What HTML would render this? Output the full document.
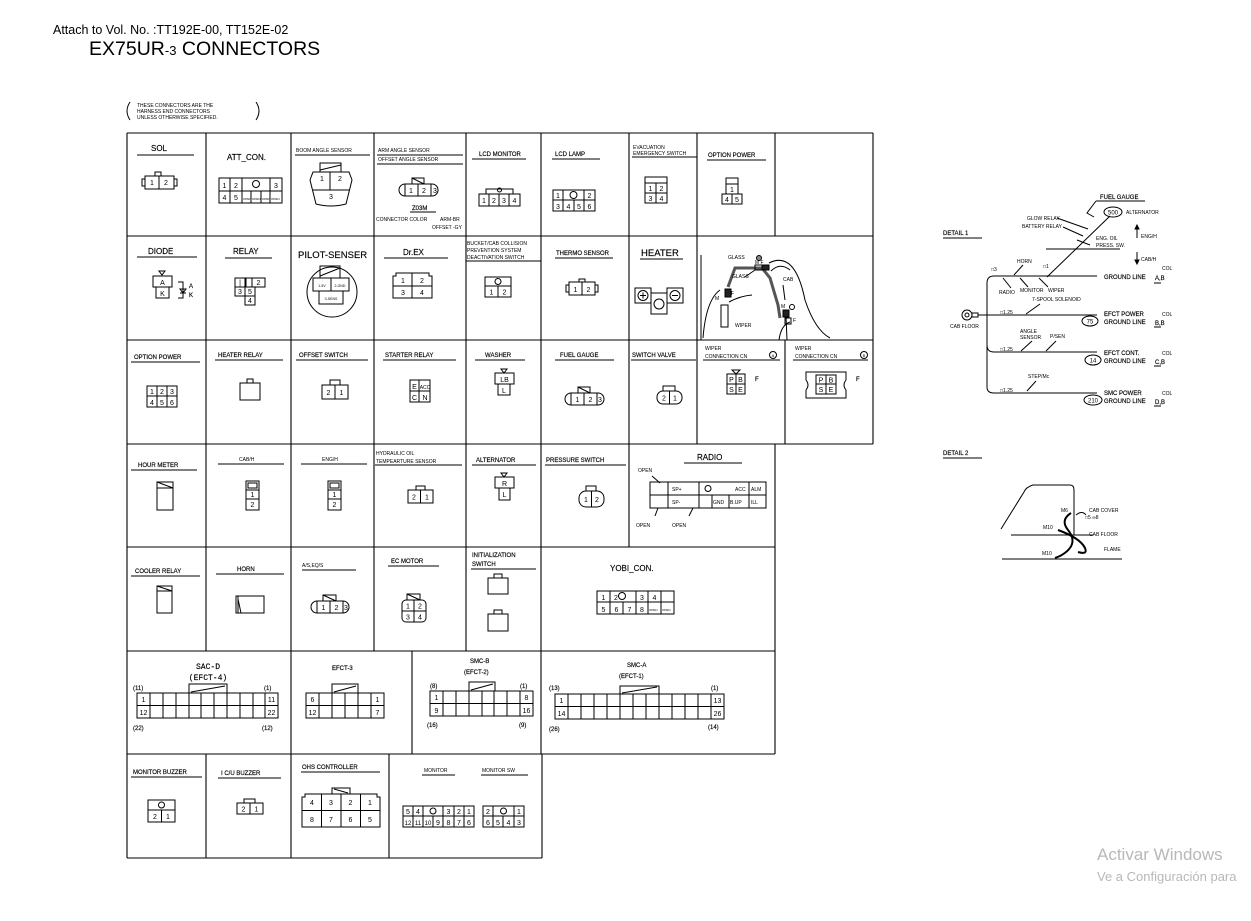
<!DOCTYPE html>
<html><head><meta charset="utf-8"><style>
html,body{margin:0;padding:0;background:#fff;width:1251px;height:921px;overflow:hidden}
svg{display:block}
text{font-family:"Liberation Sans",Arial,sans-serif;fill:#000}
.t{font-size:8px}.s{font-size:6px}.xs{font-size:5px}.n{font-size:7px;text-anchor:middle}
.b{font-size:9.5px}
line,rect,path,polyline,circle,ellipse,polygon{stroke:#000;stroke-width:1;fill:none}
.g line{stroke-width:1.1}
.t,.s,.b{stroke:#000;stroke-width:0.15px}
</style></head><body>
<svg width="1251" height="921" viewBox="0 0 1251 921">
<text x="53" y="34" style="font-size:12.5px">Attach to Vol. No. :TT192E-00, TT152E-02</text>
<text x="89" y="55" style="font-size:19.5px">EX75UR<tspan style="font-size:13px">-3</tspan> CONNECTORS</text>
<path d="M130,102 Q124,111 130,120"/><path d="M256,102 Q262,111 256,120"/>
<text x="137" y="107" class="xs">THESE CONNECTORS ARE THE</text>
<text x="137" y="113" class="xs">HARNESS END CONNECTORS</text>
<text x="137" y="119" class="xs">UNLESS OTHERWISE SPECIFIED.</text>

<g class="g">
<line x1="127" y1="133" x2="873" y2="133"/><line x1="127" y1="236" x2="873" y2="236"/>
<line x1="127" y1="340" x2="873" y2="340"/><line x1="127" y1="444" x2="873" y2="444"/>
<line x1="127" y1="547" x2="775" y2="547"/><line x1="127" y1="651" x2="775" y2="651"/>
<line x1="127" y1="754" x2="775" y2="754"/><line x1="127" y1="858" x2="542" y2="858"/>
<line x1="127" y1="133" x2="127" y2="858"/><line x1="873" y1="133" x2="873" y2="444"/>
<line x1="206" y1="133" x2="206" y2="651"/><line x1="291" y1="133" x2="291" y2="858"/>
<line x1="374" y1="133" x2="374" y2="651"/><line x1="466" y1="133" x2="466" y2="651"/>
<line x1="541" y1="133" x2="541" y2="754"/><line x1="629" y1="133" x2="629" y2="547"/>
<line x1="697" y1="133" x2="697" y2="444"/><line x1="775" y1="133" x2="775" y2="236"/>
<line x1="785" y1="340" x2="785" y2="444"/><line x1="775" y1="444" x2="775" y2="754"/>
<line x1="412" y1="651" x2="412" y2="754"/><line x1="206" y1="754" x2="206" y2="858"/>
<line x1="389" y1="754" x2="389" y2="858"/><line x1="542" y1="754" x2="542" y2="858"/>
</g>

<text x="151" y="151" class="t">SOL</text><line x1="137" y1="155" x2="194" y2="155"/>
<rect x="145" y="176" width="29" height="13"/><line x1="159" y1="176" x2="159" y2="189"/><rect x="155" y="172" width="6" height="4"/>
<rect x="142" y="179" width="3" height="7"/><rect x="174" y="179" width="3" height="7"/>
<text x="152" y="185" class="n">1</text><text x="166" y="185" class="n">2</text>

<text x="227" y="160" class="t">ATT_CON.</text>
<rect x="219" y="178" width="63" height="25"/><line x1="219" y1="191" x2="282" y2="191"/>
<line x1="230" y1="178" x2="230" y2="203"/><line x1="242" y1="178" x2="242" y2="203"/><line x1="270" y1="178" x2="270" y2="203"/>
<line x1="251" y1="191" x2="251" y2="203"/><line x1="261" y1="191" x2="261" y2="203"/>
<circle cx="256" cy="184" r="3.5"/>
<text x="224.5" y="188" class="n">1</text><text x="236" y="188" class="n">2</text><text x="276" y="188" class="n">3</text>
<text x="224.5" y="200" class="n">4</text><text x="236" y="200" class="n">5</text>
<text x="243" y="200" style="font-size:3px">OPEN</text><text x="252" y="200" style="font-size:3px">OPEN</text><text x="262" y="200" style="font-size:3px">OPEN</text><text x="271" y="200" style="font-size:3px">OPEN</text>

<text x="296" y="152" class="xs">BOOM ANGLE SENSOR</text><line x1="295" y1="155" x2="370" y2="155"/>
<rect x="320" y="163" width="21" height="9"/><line x1="320" y1="170" x2="341" y2="165"/>
<path d="M313,172 L349,172 L352,180 L346,204 Q331,208 316,204 L310,180 Z"/>
<line x1="330" y1="172" x2="330" y2="190"/><line x1="313" y1="190" x2="349" y2="190"/>
<text x="322" y="181" class="n">1</text><text x="340" y="181" class="n">2</text><text x="331" y="199" class="n">3</text>

<text x="378" y="152" class="xs">ARM ANGLE SENSOR</text><line x1="377" y1="155" x2="463" y2="155"/>
<text x="378" y="161" class="xs">OFFSET ANGLE SENSOR</text><line x1="377" y1="164" x2="463" y2="164"/>
<rect x="412" y="178" width="12" height="6"/><line x1="412" y1="178" x2="424" y2="184"/>
<rect x="399" y="184" width="39" height="12" rx="6"/><line x1="405" y1="184" x2="405" y2="196"/><line x1="418" y1="184" x2="418" y2="196"/><line x1="431" y1="184" x2="431" y2="196"/>
<text x="411" y="193" class="n">1</text><text x="424" y="193" class="n">2</text><text x="435" y="193" class="n">3</text>
<text x="412" y="210" class="s">Z03M</text><line x1="410" y1="212" x2="436" y2="212"/>
<text x="376" y="221" class="xs">CONNECTOR COLOR</text><text x="440" y="221" class="xs">ARM-BR</text><text x="432" y="229" class="xs">OFFSET -GY</text>

<text x="479" y="156" class="s">LCD MONITOR</text><line x1="472" y1="159" x2="526" y2="159"/>
<rect x="486" y="189" width="27" height="5"/><circle cx="499.5" cy="190" r="2"/>
<rect x="479" y="194" width="41" height="12"/><line x1="489" y1="194" x2="489" y2="206"/><line x1="499" y1="194" x2="499" y2="206"/><line x1="509" y1="194" x2="509" y2="206"/>
<text x="484" y="203" class="n">1</text><text x="494" y="203" class="n">2</text><text x="504" y="203" class="n">3</text><text x="514.5" y="203" class="n">4</text>

<text x="555" y="156" class="s">LCD LAMP</text><line x1="552" y1="159" x2="600" y2="159"/>
<rect x="553" y="190" width="42" height="21"/><line x1="553" y1="200" x2="595" y2="200"/>
<line x1="563" y1="190" x2="563" y2="211"/><line x1="584" y1="190" x2="584" y2="211"/><line x1="574" y1="200" x2="574" y2="211"/>
<circle cx="573.5" cy="195" r="3.5"/>
<text x="558" y="198" class="n">1</text><text x="589.5" y="198" class="n">2</text>
<text x="558" y="209" class="n">3</text><text x="568.5" y="209" class="n">4</text><text x="579" y="209" class="n">5</text><text x="589.5" y="209" class="n">6</text>

<text x="633" y="149" class="xs">EVACUATION</text><text x="633" y="155" class="xs">EMERGENCY SWITCH</text><line x1="632" y1="157" x2="697" y2="157"/>
<rect x="645" y="177" width="22" height="26"/><line x1="645" y1="183" x2="667" y2="183"/><line x1="645" y1="193" x2="667" y2="193"/><line x1="656" y1="183" x2="656" y2="203"/>
<text x="650.5" y="191" class="n">1</text><text x="661.5" y="191" class="n">2</text><text x="650.5" y="201" class="n">3</text><text x="661.5" y="201" class="n">4</text>

<text x="708" y="157" class="s">OPTION POWER</text><line x1="707" y1="160" x2="766" y2="160"/>
<rect x="726" y="178" width="12" height="16"/><line x1="726" y1="184" x2="738" y2="184"/>
<rect x="722" y="194" width="20" height="10"/><line x1="732" y1="194" x2="732" y2="204"/>
<text x="732" y="192" class="n">1</text><text x="727" y="202" class="n">4</text><text x="737" y="202" class="n">5</text>

<text x="148" y="254" class="t">DIODE</text><line x1="137" y1="257" x2="197" y2="257"/>
<polygon points="159,271 165,271 162,275"/><line x1="159" y1="271" x2="165" y2="271"/>
<rect x="153" y="276" width="19" height="11"/><rect x="156" y="287" width="13" height="11"/>
<text x="162.5" y="285" class="n">A</text><text x="162.5" y="296" class="n">K</text>
<polyline points="178,282 183,282 183,298 178,298"/><polygon points="180,289 186,289 183,293"/><line x1="180" y1="293" x2="186" y2="293"/>
<text x="189" y="288" class="s">A</text><text x="189" y="297" class="s">K</text>

<text x="233" y="254" class="t">RELAY</text><line x1="225" y1="258" x2="272" y2="258"/>
<rect x="235" y="278" width="10" height="9"/><rect x="246" y="278" width="6" height="9"/><rect x="252" y="278" width="13" height="9"/>
<rect x="235" y="287" width="10" height="9"/><rect x="245" y="287" width="10" height="9"/><rect x="245" y="296" width="10" height="9"/>
<text x="240" y="285" class="n">|</text><text x="258.5" y="285" class="n">2</text><text x="240" y="294" class="n">3</text><text x="250" y="294" class="n">5</text><text x="250" y="303" class="n">4</text>

<text x="298" y="258" class="b">PILOT-SENSER</text>
<circle cx="332" cy="292" r="25"/><rect x="320" y="266" width="20" height="12"/><line x1="320" y1="276" x2="340" y2="268"/>
<rect x="313" y="278" width="18" height="13"/><rect x="331" y="278" width="18" height="13"/><rect x="319" y="291" width="24" height="13"/>
<text x="322" y="287" style="font-size:3.5px;text-anchor:middle">1-5V</text><text x="340" y="287" style="font-size:3.5px;text-anchor:middle">2-GND</text><text x="331" y="300" style="font-size:3.5px;text-anchor:middle">3-SENS</text>

<text x="403" y="255" class="t">Dr.EX</text><line x1="384" y1="258" x2="448" y2="258"/>
<path d="M396,273 L429,273 L429,276 L432,276 L432,298 L393,298 L393,276 L396,276 Z"/>
<line x1="412" y1="273" x2="412" y2="298"/><line x1="393" y1="286" x2="432" y2="286"/>
<text x="403" y="283" class="n">1</text><text x="422" y="283" class="n">2</text><text x="403" y="295" class="n">3</text><text x="422" y="295" class="n">4</text>

<text x="467" y="245" class="xs">BUCKET/CAB COLLISION</text><text x="467" y="252" class="xs">PREVENTION SYSTEM</text><text x="467" y="259" class="xs">DEACTIVATION SWITCH</text><line x1="466" y1="261" x2="541" y2="261"/>
<rect x="485" y="277" width="26" height="20"/><line x1="485" y1="286" x2="511" y2="286"/><line x1="498" y1="286" x2="498" y2="297"/>
<circle cx="498" cy="281.5" r="3"/><text x="491.5" y="294.5" class="n">1</text><text x="504.5" y="294.5" class="n">2</text>

<text x="556" y="255" class="s">THERMO SENSOR</text><line x1="555" y1="258" x2="613" y2="258"/>
<rect x="569" y="282" width="26" height="13"/><line x1="582" y1="282" x2="582" y2="295"/><rect x="579" y="279" width="6" height="3"/>
<rect x="566" y="285" width="3" height="7"/><rect x="595" y="285" width="3" height="7"/>
<text x="575.5" y="292" class="n">1</text><text x="588.5" y="292" class="n">2</text>

<text x="641" y="256" class="b">HEATER</text><line x1="640" y1="259" x2="683" y2="259"/>
<rect x="635" y="288" width="16" height="15"/><rect x="651" y="293" width="16" height="21"/><rect x="667" y="288" width="16" height="15"/>
<circle cx="643" cy="295.5" r="5"/><line x1="640" y1="295.5" x2="646" y2="295.5"/><line x1="643" y1="292.5" x2="643" y2="298.5"/>
<circle cx="659" cy="304" r="5"/><circle cx="675" cy="295.5" r="5"/><line x1="672" y1="295.5" x2="678" y2="295.5"/>

<line x1="701" y1="255" x2="701" y2="340"/>
<text x="728" y="259" class="xs">GLASS</text><circle cx="759" cy="258" r="2.5" style="fill:#888"/>
<path d="M728,287 L735,268 L762,268 L770,278 L778,305 L780,318" style="stroke-width:3;stroke:#555"/>
<rect x="755" y="265" width="7" height="5"/><rect x="762" y="265" width="7" height="5" style="fill:#222"/>
<text x="755" y="264" class="xs">M F</text>
<text x="732" y="278" class="xs">GLASS</text><line x1="745" y1="277" x2="755" y2="270"/>
<text x="783" y="281" class="xs">CAB</text><line x1="783" y1="285" x2="785" y2="300"/>
<rect x="725" y="289" width="6" height="8" style="fill:#222"/><text x="731" y="295" class="xs">F</text><text x="715" y="300" class="xs">M</text>
<rect x="721" y="305" width="7" height="22"/><text x="735" y="327" class="xs">WIPER</text>
<path d="M729,302 Q740,296 752,295"/><path d="M703,338 Q706,300 720,290"/>
<rect x="783" y="310" width="6" height="7" style="fill:#222"/><text x="781" y="308" class="xs">M</text><circle cx="792" cy="307" r="2.5"/>
<rect x="785" y="318" width="6" height="6"/><text x="793" y="322" class="xs">F</text>
<path d="M779,340 Q781,325 790,322"/><path d="M771,271 Q780,262 790,270"/>
<path d="M769,263 Q795,250 805,300 Q815,330 830,338"/><path d="M786,316 L787,340"/>

<text x="134" y="359" class="s">OPTION POWER</text><line x1="131" y1="362" x2="200" y2="362"/>
<rect x="147" y="386" width="30" height="21"/><line x1="147" y1="396" x2="177" y2="396"/><line x1="157" y1="386" x2="157" y2="407"/><line x1="167" y1="386" x2="167" y2="407"/>
<text x="152" y="394" class="n">1</text><text x="162" y="394" class="n">2</text><text x="172" y="394" class="n">3</text><text x="152" y="405" class="n">4</text><text x="162" y="405" class="n">5</text><text x="172" y="405" class="n">6</text>

<text x="218" y="357" class="s">HEATER RELAY</text><line x1="215" y1="360" x2="283" y2="360"/>
<rect x="240" y="383" width="20" height="17"/><rect x="247" y="379" width="6" height="4"/>

<text x="299" y="357" class="s">OFFSET SWITCH</text><line x1="296" y1="360" x2="368" y2="360"/>
<rect x="322" y="385" width="26" height="14"/><line x1="335" y1="385" x2="335" y2="399"/><rect x="330" y="380" width="10" height="5"/>
<text x="328.5" y="395" class="n">2</text><text x="341.5" y="395" class="n">1</text>

<text x="385" y="357" class="s">STARTER RELAY</text><line x1="383" y1="360" x2="456" y2="360"/>
<rect x="410" y="380" width="20" height="22"/><line x1="410" y1="391" x2="430" y2="391"/><line x1="419" y1="380" x2="419" y2="402"/>
<text x="414.5" y="389" class="n">E</text><text x="425" y="389" style="font-size:5px;text-anchor:middle">ACC</text><text x="414.5" y="400" class="n">C</text><text x="425" y="400" class="n">N</text>

<text x="485" y="357" class="s">WASHER</text><line x1="475" y1="360" x2="525" y2="360"/>
<polygon points="501,369 507,369 504,373"/><rect x="495" y="373" width="19" height="11"/><rect x="498" y="384" width="12" height="11"/>
<text x="504.5" y="382" class="n">LB</text><text x="504" y="393" class="n">L</text>

<text x="560" y="357" class="s">FUEL GAUGE</text><line x1="555" y1="360" x2="614" y2="360"/>
<rect x="578" y="387" width="12" height="6"/><line x1="578" y1="387" x2="590" y2="393"/>
<rect x="565" y="393" width="39" height="12" rx="6"/><line x1="571" y1="393" x2="571" y2="405"/><line x1="584" y1="393" x2="584" y2="405"/><line x1="597" y1="393" x2="597" y2="405"/>
<text x="577.5" y="402" class="n">1</text><text x="590.5" y="402" class="n">2</text><text x="600" y="402" class="n">3</text>

<text x="632" y="357" class="s">SWITCH VALVE</text><line x1="631" y1="360" x2="696" y2="360"/>
<rect x="663" y="386" width="12" height="5"/><rect x="657" y="391" width="25" height="13" rx="6"/><line x1="669.5" y1="391" x2="669.5" y2="404"/>
<text x="664" y="400.5" class="n">2</text><text x="675" y="400.5" class="n">1</text>

<text x="705" y="350" class="xs">WIPER</text><text x="705" y="358" class="xs">CONNECTION CN</text><line x1="703" y1="360" x2="780" y2="360"/><circle cx="773" cy="355" r="3.5"/><text x="773" y="357" style="font-size:4px;text-anchor:middle">A</text>
<polygon points="732,370 740,370 736,374"/><rect x="727" y="374" width="18" height="20"/><line x1="727" y1="384" x2="745" y2="384"/><line x1="736" y1="374" x2="736" y2="394"/>
<text x="731.5" y="382" class="n">P</text><text x="740.5" y="382" class="n">B</text><text x="731.5" y="392" class="n">S</text><text x="740.5" y="392" class="n">E</text>
<text x="755" y="381" class="s">F</text>
<text x="795" y="350" class="xs">WIPER</text><text x="795" y="358" class="xs">CONNECTION CN</text><line x1="793" y1="360" x2="868" y2="360"/><circle cx="864" cy="355" r="3.5"/><text x="864" y="357" style="font-size:4px;text-anchor:middle">B</text>
<path d="M806,372 L846,372 L846,380 Q842,385 846,390 L846,398 L806,398 L806,390 Q810,385 806,380 Z"/>
<rect x="816" y="375" width="20" height="19"/><line x1="816" y1="384" x2="836" y2="384"/><line x1="826" y1="375" x2="826" y2="394"/>
<text x="821" y="382.5" class="n">P</text><text x="831" y="382.5" class="n">B</text><text x="821" y="392" class="n">S</text><text x="831" y="392" class="n">E</text>
<text x="856" y="381" class="s">F</text>

<text x="138" y="467" class="s">HOUR METER</text><line x1="131" y1="470" x2="197" y2="470"/>
<rect x="157" y="482" width="16" height="28"/><line x1="157" y1="488" x2="173" y2="488"/><line x1="157" y1="482" x2="173" y2="488"/>
<text x="239" y="461" class="xs">CAB/H</text><line x1="218" y1="464" x2="284" y2="464"/>
<rect x="246" y="481" width="13" height="29"/><rect x="248" y="483" width="9" height="5"/><line x1="246" y1="490" x2="259" y2="490"/><line x1="246" y1="499" x2="259" y2="499"/>
<text x="252.5" y="497" class="n">1</text><text x="252.5" y="507" class="n">2</text>
<text x="322" y="461" class="xs">ENG/H</text><line x1="301" y1="464" x2="367" y2="464"/>
<rect x="328" y="481" width="13" height="29"/><rect x="330" y="483" width="9" height="5"/><line x1="328" y1="490" x2="341" y2="490"/><line x1="328" y1="499" x2="341" y2="499"/>
<text x="334.5" y="497" class="n">1</text><text x="334.5" y="507" class="n">2</text>
<text x="376" y="455" class="xs">HYDRAULIC OIL</text><text x="376" y="463" class="xs">TEMPEARTURE SENSOR</text><line x1="375" y1="465" x2="462" y2="465"/>
<rect x="416" y="486" width="9" height="4"/><rect x="408" y="490" width="25" height="13"/><line x1="420.5" y1="490" x2="420.5" y2="503"/>
<text x="414" y="499.5" class="n">2</text><text x="427" y="499.5" class="n">1</text>
<text x="476" y="462" class="s">ALTERNATOR</text><line x1="472" y1="465" x2="536" y2="465"/>
<polygon points="501,473 507,473 504,477"/><rect x="495" y="477" width="19" height="11"/><rect x="499" y="488" width="11" height="12"/>
<text x="504.5" y="486" class="n">R</text><text x="504.5" y="497" class="n">L</text>
<text x="546" y="462" class="s">PRESSURE SWITCH</text><line x1="545" y1="465" x2="626" y2="465"/>
<rect x="586" y="486" width="10" height="5"/><rect x="579" y="491" width="25" height="16" rx="7"/><line x1="591.5" y1="491" x2="591.5" y2="507"/>
<text x="586" y="502" class="n">1</text><text x="597" y="502" class="n">2</text>
<text x="697" y="460" class="t">RADIO</text><line x1="684" y1="463" x2="742" y2="463"/>
<text x="638" y="472" class="xs">OPEN</text><line x1="652" y1="476" x2="660" y2="483"/>
<rect x="650" y="482" width="116" height="26"/><line x1="650" y1="495" x2="766" y2="495"/>
<line x1="668" y1="482" x2="668" y2="508"/><line x1="699" y1="482" x2="699" y2="508"/><line x1="712" y1="495" x2="712" y2="508"/>
<line x1="749" y1="482" x2="749" y2="508"/><line x1="729" y1="495" x2="729" y2="508"/>
<circle cx="708" cy="488.5" r="3"/>
<text x="672" y="491" class="xs">SP+</text><text x="672" y="504" class="xs">SP-</text><text x="735" y="491" class="xs">ACC</text><text x="751" y="491" class="xs">ALM</text>
<text x="713" y="504" class="xs">GND</text><text x="730" y="504" class="xs">B.UP</text><text x="751" y="504" class="xs">ILL</text>
<line x1="658" y1="508" x2="655" y2="516"/><line x1="693" y1="508" x2="689" y2="516"/>
<text x="636" y="527" class="xs">OPEN</text><text x="672" y="527" class="xs">OPEN</text>

<text x="135" y="573" class="s">COOLER RELAY</text><line x1="131" y1="576" x2="200" y2="576"/>
<rect x="157" y="586" width="15" height="27"/><line x1="157" y1="591" x2="172" y2="591"/><line x1="157" y1="586" x2="172" y2="591"/>
<text x="237" y="571" class="s">HORN</text><line x1="216" y1="574" x2="284" y2="574"/>
<rect x="236" y="596" width="28" height="17"/><line x1="238" y1="596" x2="238" y2="613"/><line x1="238" y1="599" x2="241" y2="613"/>
<text x="302" y="567" class="xs">A/S,EQ/S</text><line x1="302" y1="570" x2="356" y2="570"/>
<rect x="323" y="595" width="13" height="6"/><line x1="323" y1="595" x2="336" y2="601"/>
<rect x="311" y="601" width="38" height="12" rx="6"/><line x1="317" y1="601" x2="317" y2="613"/><line x1="330" y1="601" x2="330" y2="613"/><line x1="343" y1="601" x2="343" y2="613"/>
<text x="323.5" y="610" class="n">1</text><text x="336.5" y="610" class="n">2</text><text x="346" y="610" class="n">3</text>
<text x="391" y="563" class="s">EC MOTOR</text><line x1="388" y1="566" x2="439" y2="566"/>
<rect x="407" y="594" width="13" height="6"/><line x1="407" y1="594" x2="420" y2="600"/>
<rect x="402" y="600" width="24" height="22" rx="4"/><line x1="414" y1="600" x2="414" y2="622"/><line x1="402" y1="611" x2="426" y2="611"/>
<text x="408" y="608.5" class="n">1</text><text x="420" y="608.5" class="n">2</text><text x="408" y="619.5" class="n">3</text><text x="420" y="619.5" class="n">4</text>
<text x="472" y="557" class="s">INITIALIZATION</text><text x="472" y="566" class="s">SWITCH</text><line x1="471" y1="569" x2="536" y2="569"/>
<rect x="488" y="578" width="20" height="16"/><rect x="494" y="574" width="8" height="4"/>
<rect x="488" y="614" width="20" height="17"/><rect x="494" y="610" width="8" height="4"/>
<text x="610" y="571" class="t">YOBI_CON.</text>
<rect x="597" y="591" width="77" height="23"/><line x1="597" y1="602" x2="674" y2="602"/>
<line x1="610" y1="591" x2="610" y2="614"/><line x1="623" y1="602" x2="623" y2="614"/><line x1="636" y1="591" x2="636" y2="614"/><line x1="648" y1="591" x2="648" y2="614"/><line x1="661" y1="591" x2="661" y2="614"/>
<circle cx="622" cy="596" r="3.5"/>
<text x="603.5" y="600" class="n">1</text><text x="616" y="600" class="n">2</text><text x="642" y="600" class="n">3</text><text x="654.5" y="600" class="n">4</text>
<text x="603.5" y="612" class="n">5</text><text x="616.5" y="612" class="n">6</text><text x="629.5" y="612" class="n">7</text><text x="642" y="612" class="n">8</text>
<text x="649" y="611" style="font-size:3px">OPEN</text><text x="662" y="611" style="font-size:3px">OPEN</text>

<text x="208" y="669" class="t" style="text-anchor:middle;font-family:'Liberation Mono',monospace">SAC-D</text>
<text x="208" y="680" class="t" style="text-anchor:middle;font-family:'Liberation Mono',monospace">(EFCT-4)</text>
<text x="133" y="690" class="s">(11)</text><text x="264" y="690" class="s">(1)</text>
<rect x="189" y="684" width="38" height="9"/><line x1="191" y1="692" x2="225" y2="686"/>
<rect x="137" y="693" width="141" height="25"/><line x1="137" y1="705.5" x2="278" y2="705.5"/>
<line x1="150" y1="693" x2="150" y2="718"/><line x1="163" y1="693" x2="163" y2="718"/><line x1="176" y1="693" x2="176" y2="718"/><line x1="189" y1="693" x2="189" y2="718"/><line x1="201" y1="693" x2="201" y2="718"/><line x1="214" y1="693" x2="214" y2="718"/><line x1="227" y1="693" x2="227" y2="718"/><line x1="240" y1="693" x2="240" y2="718"/><line x1="253" y1="693" x2="253" y2="718"/><line x1="265" y1="693" x2="265" y2="718"/>
<text x="143.5" y="702" class="n">1</text><text x="143.5" y="715" class="n">12</text><text x="271.5" y="702" class="n">11</text><text x="271.5" y="715" class="n">22</text>
<text x="133" y="730" class="s">(22)</text><text x="262" y="730" class="s">(12)</text>

<text x="332" y="670" class="s">EFCT-3</text>
<rect x="332" y="684" width="26" height="9"/><line x1="334" y1="692" x2="356" y2="686"/>
<rect x="306" y="693" width="78" height="25"/><line x1="306" y1="705.5" x2="384" y2="705.5"/>
<line x1="319" y1="693" x2="319" y2="718"/><line x1="332" y1="693" x2="332" y2="718"/><line x1="345" y1="693" x2="345" y2="718"/><line x1="358" y1="693" x2="358" y2="718"/><line x1="371" y1="693" x2="371" y2="718"/>
<text x="312.5" y="702" class="n">6</text><text x="312.5" y="715" class="n">12</text><text x="377.5" y="702" class="n">1</text><text x="377.5" y="715" class="n">7</text>

<text x="470" y="663" class="s">SMC-B</text><text x="464" y="674" class="s">(EFCT-2)</text>
<text x="430" y="688" class="s">(8)</text><text x="520" y="688" class="s">(1)</text>
<rect x="469" y="682" width="26" height="9"/><line x1="471" y1="690" x2="493" y2="684"/>
<rect x="430" y="691" width="103" height="25"/><line x1="430" y1="703.5" x2="533" y2="703.5"/>
<line x1="443" y1="691" x2="443" y2="716"/><line x1="456" y1="691" x2="456" y2="716"/><line x1="469" y1="691" x2="469" y2="716"/><line x1="482" y1="691" x2="482" y2="716"/><line x1="494" y1="691" x2="494" y2="716"/><line x1="507" y1="691" x2="507" y2="716"/><line x1="520" y1="691" x2="520" y2="716"/>
<text x="436.5" y="700" class="n">1</text><text x="436.5" y="713" class="n">9</text><text x="526.5" y="700" class="n">8</text><text x="526.5" y="713" class="n">16</text>
<text x="427" y="727" class="s">(16)</text><text x="519" y="727" class="s">(9)</text>

<text x="627" y="667" class="s">SMC-A</text><text x="619" y="678" class="s">(EFCT-1)</text>
<text x="549" y="690" class="s">(13)</text><text x="711" y="690" class="s">(1)</text>
<rect x="620" y="686" width="39" height="8"/><line x1="622" y1="693" x2="657" y2="687"/>
<rect x="555" y="694" width="169" height="25"/><line x1="555" y1="706.5" x2="724" y2="706.5"/>
<line x1="568" y1="694" x2="568" y2="719"/><line x1="581" y1="694" x2="581" y2="719"/><line x1="594" y1="694" x2="594" y2="719"/><line x1="607" y1="694" x2="607" y2="719"/><line x1="620" y1="694" x2="620" y2="719"/><line x1="633" y1="694" x2="633" y2="719"/><line x1="646" y1="694" x2="646" y2="719"/><line x1="659" y1="694" x2="659" y2="719"/><line x1="672" y1="694" x2="672" y2="719"/><line x1="685" y1="694" x2="685" y2="719"/><line x1="698" y1="694" x2="698" y2="719"/><line x1="711" y1="694" x2="711" y2="719"/>
<text x="561.5" y="703" class="n">1</text><text x="561.5" y="716" class="n">14</text><text x="717.5" y="703" class="n">13</text><text x="717.5" y="716" class="n">26</text>
<text x="549" y="731" class="s">(26)</text><text x="708" y="729" class="s">(14)</text>

<text x="133" y="774" class="s">MONITOR BUZZER</text><line x1="131" y1="777" x2="202" y2="777"/>
<rect x="148" y="800" width="27" height="22"/><line x1="148" y1="810" x2="175" y2="810"/><line x1="161.5" y1="810" x2="161.5" y2="822"/><circle cx="161.5" cy="805" r="3"/>
<text x="155" y="819" class="n">2</text><text x="168" y="819" class="n">1</text>
<text x="221" y="775" class="s">I C/U BUZZER</text><line x1="218" y1="778" x2="281" y2="778"/>
<rect x="244" y="799" width="11" height="4"/><rect x="237" y="803" width="26" height="11"/><line x1="250" y1="803" x2="250" y2="814"/>
<text x="243.5" y="811.5" class="n">2</text><text x="256.5" y="811.5" class="n">1</text>
<text x="302" y="769" class="s">OHS CONTROLLER</text><line x1="301" y1="772" x2="380" y2="772"/>
<rect x="332" y="788" width="18" height="6"/><line x1="334" y1="789" x2="348" y2="793"/>
<path d="M305,794 L377,794 L377,797 L380,797 L380,827 L302,827 L302,797 L305,797 Z"/>
<line x1="302" y1="810.5" x2="380" y2="810.5"/><line x1="321.5" y1="794" x2="321.5" y2="827"/><line x1="341" y1="794" x2="341" y2="827"/><line x1="360.5" y1="794" x2="360.5" y2="827"/>
<text x="312" y="805" class="n">4</text><text x="331" y="805" class="n">3</text><text x="350.5" y="805" class="n">2</text><text x="370" y="805" class="n">1</text>
<text x="312" y="822" class="n">8</text><text x="331" y="822" class="n">7</text><text x="350.5" y="822" class="n">6</text><text x="370" y="822" class="n">5</text>
<text x="424" y="772" class="xs">MONITOR</text><line x1="422" y1="775" x2="455" y2="775"/>
<text x="482" y="772" class="xs">MONITOR SW</text><line x1="481" y1="775" x2="528" y2="775"/>
<rect x="403" y="806" width="71" height="21"/><line x1="403" y1="816" x2="474" y2="816"/>
<line x1="413" y1="806" x2="413" y2="827"/><line x1="423" y1="806" x2="423" y2="827"/><line x1="433" y1="816" x2="433" y2="827"/><line x1="443" y1="806" x2="443" y2="827"/><line x1="454" y1="806" x2="454" y2="827"/><line x1="464" y1="806" x2="464" y2="827"/>
<circle cx="433" cy="811" r="3"/>
<text x="408" y="814" class="n">5</text><text x="418" y="814" class="n">4</text><text x="448.5" y="814" class="n">3</text><text x="459" y="814" class="n">2</text><text x="469" y="814" class="n">1</text>
<text x="408" y="825" class="n" style="font-size:6px">12</text><text x="418" y="825" class="n" style="font-size:6px">11</text><text x="428" y="825" class="n" style="font-size:6px">10</text><text x="438" y="825" class="n">9</text><text x="448.5" y="825" class="n">8</text><text x="459" y="825" class="n">7</text><text x="469" y="825" class="n">6</text>
<rect x="483" y="806" width="41" height="21"/><line x1="483" y1="816" x2="524" y2="816"/>
<line x1="493" y1="806" x2="493" y2="827"/><line x1="503" y1="816" x2="503" y2="827"/><line x1="514" y1="806" x2="514" y2="827"/><circle cx="503.5" cy="811" r="3"/>
<text x="488" y="814" class="n">2</text><text x="519" y="814" class="n">1</text>
<text x="488" y="825" class="n">6</text><text x="498" y="825" class="n">5</text><text x="508.5" y="825" class="n">4</text><text x="519" y="825" class="n">3</text>

<text x="943" y="235" class="s">DETAIL 1</text><line x1="943" y1="238" x2="982" y2="238"/>
<text x="1100" y="199" class="s">FUEL GAUGE</text><line x1="1096" y1="201" x2="1145" y2="201"/>
<polyline points="1096,201 1087,213 1094,217"/>
<ellipse cx="1113" cy="212" rx="9" ry="5"/><text x="1113" y="214.5" class="n" style="font-size:6px">500</text><text x="1126" y="214" class="xs">ALTERNATOR</text>
<line x1="1110" y1="216" x2="1047" y2="277"/>
<text x="1027" y="220" class="xs">GLOW RELAY</text><line x1="1057" y1="218" x2="1088" y2="229"/>
<text x="1022" y="228" class="xs">BATTERY RELAY</text><line x1="1063" y1="227" x2="1083" y2="236"/>
<line x1="1046" y1="249" x2="1120" y2="249"/>
<text x="1096" y="240" class="xs">ENG. OIL</text><text x="1096" y="247" class="xs">PRESS. SW.</text><line x1="1077" y1="240" x2="1090" y2="245"/>
<line x1="1137" y1="226" x2="1137" y2="238"/><polygon points="1135,229 1139,229 1137,225" style="fill:#000"/><text x="1141" y="238" class="xs">ENG/H</text>
<line x1="1137" y1="252" x2="1137" y2="263"/><polygon points="1135,260 1139,260 1137,264" style="fill:#000"/><text x="1141" y="261" class="xs">CAB/H</text>
<path d="M1097,276 L994,276 Q987,276 987,283 L987,387 Q987,393 994,393 L1097,393"/>
<line x1="987" y1="315" x2="1097" y2="315"/><path d="M987,345 Q987,352 994,352 L1097,352"/>
<circle cx="967" cy="315" r="5"/><circle cx="967" cy="315" r="2"/><rect x="972" y="313" width="6" height="4"/><line x1="978" y1="315" x2="987" y2="315"/>
<text x="950" y="328" class="xs">CAB FLOOR</text>
<text x="991" y="271" class="xs">□3</text><text x="1017" y="263" class="xs">HORN</text><line x1="1023" y1="265" x2="1014" y2="275"/>
<text x="1043" y="268" class="xs">□1</text>
<line x1="1003" y1="278" x2="1011" y2="288"/><text x="999" y="294" class="xs">RADIO</text>
<line x1="1020" y1="278" x2="1028" y2="287"/><text x="1020" y="292" class="xs">MONITOR</text>
<line x1="1039" y1="278" x2="1048" y2="287"/><text x="1048" y="292" class="xs">WIPER</text>
<text x="1032" y="301" class="xs">7-SPOOL SOLENOID</text><line x1="1040" y1="304" x2="1026" y2="314"/>
<text x="1000" y="314" class="xs">□1.25</text>
<text x="1020" y="333" class="xs">ANGLE</text><text x="1020" y="339" class="xs">SENSOR</text><line x1="1032" y1="341" x2="1021" y2="351"/>
<text x="1050" y="338" class="xs">P/SEN</text><line x1="1056" y1="341" x2="1046" y2="351"/>
<text x="1000" y="351" class="xs">□1.25</text>
<text x="1028" y="378" class="xs">STEP/Mc</text><line x1="1036" y1="381" x2="1027" y2="391"/>
<text x="1000" y="392" class="xs">□1.25</text>
<text x="1104" y="279" class="s">GROUND LINE</text><text x="1162" y="270" class="xs">COL</text><text x="1155" y="280" class="s">A,B</text><line x1="1154" y1="283" x2="1161" y2="283"/>
<text x="1104" y="316" class="s">EFCT POWER</text><text x="1104" y="324" class="s">GROUND LINE</text><ellipse cx="1090" cy="321" rx="8" ry="5"/><text x="1090" y="323.5" class="n" style="font-size:6px">75</text><text x="1162" y="316" class="xs">COL</text><text x="1155" y="325" class="s">B,B</text><line x1="1154" y1="327" x2="1161" y2="327"/>
<text x="1104" y="355" class="s">EFCT CONT.</text><text x="1104" y="363" class="s">GROUND LINE</text><ellipse cx="1093" cy="360" rx="8" ry="5"/><text x="1093" y="362.5" class="n" style="font-size:6px">14</text><text x="1162" y="355" class="xs">COL</text><text x="1155" y="364" class="s">C,B</text><line x1="1154" y1="366" x2="1161" y2="366"/>
<text x="1104" y="395" class="s">SMC POWER</text><text x="1104" y="403" class="s">GROUND LINE</text><ellipse cx="1093" cy="400" rx="9" ry="5"/><text x="1093" y="402.5" class="n" style="font-size:6px">210</text><text x="1162" y="395" class="xs">COL</text><text x="1155" y="404" class="s">D,B</text><line x1="1154" y1="406" x2="1161" y2="406"/>

<text x="943" y="455" class="s">DETAIL 2</text><line x1="943" y1="458" x2="982" y2="458"/>
<path d="M1001,529 L1024,492 Q1026,487 1033,485 L1070,485 Q1074,485 1074,490 L1074,535"/>
<line x1="1011" y1="535" x2="1093" y2="535"/><line x1="1002" y1="559" x2="1122" y2="559"/>
<path d="M1071,513 Q1060,520 1068,530 Q1080,545 1060,556 L1055,558" style="stroke-width:2"/>
<path d="M1058,530 Q1080,538 1085,548 Q1088,555 1078,552" style="stroke-width:2"/>
<text x="1061" y="512" class="xs">M6</text><text x="1043" y="529" class="xs">M10</text><text x="1042" y="555" class="xs">M10</text>
<text x="1089" y="512" class="xs">CAB COVER</text><text x="1085" y="519" class="xs">□5 ∞8</text>
<text x="1089" y="536" class="xs">CAB FLOOR</text><text x="1104" y="551" class="xs">FLAME</text>
<path d="M1076,515 Q1082,510 1086,515"/>

<text x="1097" y="860" style="font-size:17px;fill:#b8b8b8">Activar Windows</text>
<text x="1097" y="881" style="font-size:13px;fill:#b8b8b8">Ve a Configuración para</text>
</svg>
</body></html>
